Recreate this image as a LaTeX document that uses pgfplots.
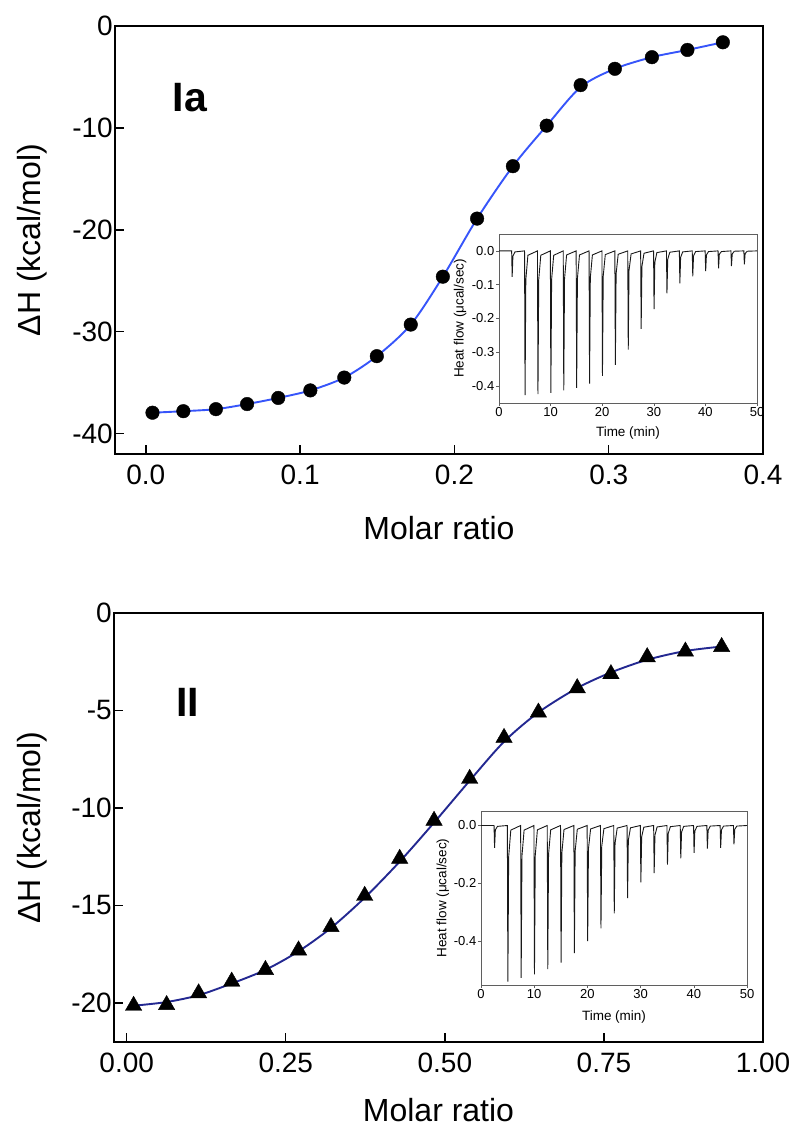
\documentclass[border=0pt]{standalone}
\usepackage{fontspec}
\setmainfont{Liberation Sans}
\usepackage{pgfplots}
\pgfplotsset{compat=1.18}

\definecolor{fitblue}{RGB}{55,85,250}
\definecolor{fitnavy}{RGB}{35,40,145}
\definecolor{frame}{RGB}{95,95,95}

\pgfplotsset{
  mainax/.style={
    scale only axis, anchor=south west,
    axis line style={line width=1.6pt},
    /pgf/number format/assume math mode=true,
    tick label style={font=\fontsize{28}{30}\selectfont},
    xticklabel style={inner ysep=11pt},
    yticklabel style={inner xsep=2pt},
    label style={font=\fontsize{32}{36}\selectfont},
  },
  inset/.style={
    scale only axis, anchor=south west,
    axis background/.style={fill=white},
    axis line style={frame, line width=0.8pt},
    /pgf/number format/assume math mode=true,
    tick label style={font=\fontsize{13}{14}\selectfont, inner sep=1.5pt},
    label style={font=\fontsize{13.5}{15}\selectfont},
    xtick={0,10,20,30,40,50},
    xmin=0, xmax=50,
    yticklabel style={/pgf/number format/.cd,fixed,fixed zerofill,precision=1},
    xlabel={Time (min)},
    ylabel={Heat flow (μcal/sec)},
  },
}

\begin{document}
\begin{tikzpicture}
\useasboundingbox (0,0) rectangle (799pt,1133pt);

% ---- panel Ia ----
\begin{axis}[mainax, at={(115pt,679pt)}, width=648pt, height=428pt,
    xmin=-0.02, xmax=0.4, ymin=-42, ymax=0,
    tick align=inside, xtick pos=left, ytick pos=left,
    major tick length=9pt, tick style={black, line width=1.4pt},
    xtick={0,0.1,0.2,0.3,0.4}, ytick={-40,-30,-20,-10,0},
    xticklabel style={/pgf/number format/.cd,fixed,fixed zerofill,precision=1},
    xlabel={Molar ratio}, ylabel={ΔH (kcal/mol)},
    xlabel style={at={(axis description cs:0.5,-0.173)}, anchor=center},
    ylabel style={at={(axis description cs:-0.128,0.5)}, anchor=center},
]
\addplot[fitblue, line width=1.9pt, smooth] coordinates {
  (0.0043,-37.95) (0.0243,-37.8) (0.0454,-37.6) (0.0656,-37.1)
  (0.0858,-36.5) (0.1066,-35.76) (0.1286,-34.5) (0.1497,-32.4)
  (0.1717,-29.3) (0.1925,-24.6) (0.2147,-18.9) (0.2379,-13.76)
  (0.2598,-9.78) (0.2818,-6.0) (0.304,-4.2) (0.328,-3.06)
  (0.351,-2.35) (0.374,-1.6)
};
\addplot[only marks, mark=*, mark size=6.8pt, black] coordinates {
  (0.0043,-37.95) (0.0243,-37.8) (0.0454,-37.6) (0.0656,-37.1)
  (0.0858,-36.5) (0.1066,-35.76) (0.1286,-34.5) (0.1497,-32.4)
  (0.1717,-29.3) (0.1925,-24.6) (0.2147,-18.9) (0.2379,-13.76)
  (0.2598,-9.78) (0.2818,-5.8) (0.304,-4.2) (0.328,-3.06)
  (0.351,-2.35) (0.374,-1.6)
};
\node[font=\bfseries\fontsize{41}{44}\selectfont] at (axis cs:0.0286,-7.07) {Ia};
\end{axis}

\begin{axis}[inset, at={(499pt,730pt)}, width=258pt, height=169pt,
    tick align=outside, xtick pos=left, ytick pos=left,
    major tick length=3pt, tick style={frame, line width=0.6pt},
    ymin=-0.45, ymax=0.05, ytick={-0.4,-0.3,-0.2,-0.1,0},
    xlabel style={at={(axis description cs:0.5,-0.178)}, anchor=center},
    ylabel style={at={(axis description cs:-0.151,0.5)}, anchor=center},
]
\addplot[black!90, line width=0.9pt] coordinates {
  (0,0) (2.45,0) (2.55,-0.077) (2.7,-0.015) (3.1,-0.003)
  (4.95,0) (5.05,-0.427) (5.2,-0.085) (5.6,-0.013)
  (7.45,0) (7.55,-0.424) (7.7,-0.085) (8.1,-0.013)
  (9.95,0) (10.05,-0.420) (10.2,-0.084) (10.6,-0.013)
  (12.45,0) (12.55,-0.413) (12.7,-0.083) (13.1,-0.012)
  (14.95,0) (15.05,-0.405) (15.2,-0.081) (15.6,-0.012)
  (17.45,0) (17.55,-0.393) (17.7,-0.079) (18.1,-0.012)
  (19.95,0) (20.05,-0.370) (20.2,-0.074) (20.6,-0.011)
  (22.45,0) (22.55,-0.337) (22.7,-0.067) (23.1,-0.010)
  (24.95,0) (25.05,-0.292) (25.2,-0.058) (25.6,-0.009)
  (27.45,0) (27.55,-0.231) (27.7,-0.046) (28.1,-0.007)
  (29.95,0) (30.05,-0.172) (30.2,-0.034) (30.6,-0.005)
  (32.45,0) (32.55,-0.126) (32.7,-0.025) (33.1,-0.004)
  (34.95,0) (35.05,-0.096) (35.2,-0.019) (35.6,-0.003)
  (37.45,0) (37.55,-0.075) (37.7,-0.015) (38.1,-0.002)
  (39.95,0) (40.05,-0.060) (40.2,-0.012) (40.6,-0.002)
  (42.45,0) (42.55,-0.052) (42.7,-0.010) (43.1,-0.002)
  (44.95,0) (45.05,-0.045) (45.2,-0.009) (45.6,-0.001)
  (47.45,0) (47.55,-0.040) (47.7,-0.008) (48.1,-0.001)
  (50,0)
};
\end{axis}

% ---- panel II ----
\begin{axis}[mainax, at={(114pt,91pt)}, width=649pt, height=429pt,
    xmin=-0.02, xmax=1.0, ymin=-22, ymax=0,
    tick align=inside, xtick pos=left, ytick pos=left,
    major tick length=9pt, tick style={black, line width=1.4pt},
    xtick={0,0.25,0.5,0.75,1}, ytick={-20,-15,-10,-5,0},
    xticklabel style={/pgf/number format/.cd,fixed,fixed zerofill,precision=2},
    xlabel={Molar ratio}, ylabel={ΔH (kcal/mol)},
    xlabel style={at={(axis description cs:0.5,-0.159)}, anchor=center},
    ylabel style={at={(axis description cs:-0.126,0.5)}, anchor=center},
]
\addplot[fitnavy, line width=1.9pt, smooth] coordinates {
  (0.0108,-20.14) (0.0627,-19.95) (0.113,-19.6) (0.165,-19.0)
  (0.218,-18.3) (0.270,-17.35) (0.321,-16.15) (0.374,-14.6)
  (0.429,-12.75) (0.483,-10.75) (0.539,-8.6) (0.593,-6.6)
  (0.647,-5.1) (0.708,-3.85) (0.761,-3.05) (0.818,-2.4)
  (0.878,-1.95) (0.935,-1.72)
};
\addplot[only marks, mark=triangle*, mark size=9.5pt, black] coordinates {
  (0.0108,-20.14) (0.0627,-20.1) (0.113,-19.5) (0.165,-18.9)
  (0.218,-18.3) (0.270,-17.3) (0.321,-16.1) (0.374,-14.5)
  (0.429,-12.6) (0.483,-10.65) (0.539,-8.5) (0.593,-6.4)
  (0.647,-5.1) (0.708,-3.85) (0.761,-3.13) (0.818,-2.26)
  (0.878,-1.97) (0.935,-1.74)
};
\node[font=\bfseries\fontsize{41}{44}\selectfont] at (axis cs:0.096,-4.56) {II};
\end{axis}

\begin{axis}[inset, at={(481pt,148pt)}, width=266pt, height=174pt,
    tick align=outside, xtick pos=left, ytick pos=left,
    major tick length=3pt, tick style={frame, line width=0.6pt},
    ymin=-0.55, ymax=0.05, ytick={-0.4,-0.2,0},
    xlabel style={at={(axis description cs:0.5,-0.184)}, anchor=center},
    ylabel style={at={(axis description cs:-0.143,0.5)}, anchor=center},
]
\addplot[black!90, line width=0.9pt] coordinates {
  (0,0) (2.45,0) (2.55,-0.077) (2.7,-0.015) (3.1,-0.003)
  (4.95,0) (5.05,-0.538) (5.2,-0.108) (5.6,-0.016)
  (7.45,0) (7.55,-0.525) (7.7,-0.105) (8.1,-0.016)
  (9.95,0) (10.05,-0.513) (10.2,-0.103) (10.6,-0.015)
  (12.45,0) (12.55,-0.495) (12.7,-0.099) (13.1,-0.015)
  (14.95,0) (15.05,-0.473) (15.2,-0.095) (15.6,-0.014)
  (17.45,0) (17.55,-0.440) (17.7,-0.088) (18.1,-0.013)
  (19.95,0) (20.05,-0.399) (20.2,-0.080) (20.6,-0.012)
  (22.45,0) (22.55,-0.355) (22.7,-0.071) (23.1,-0.011)
  (24.95,0) (25.05,-0.303) (25.2,-0.061) (25.6,-0.009)
  (27.45,0) (27.55,-0.250) (27.7,-0.050) (28.1,-0.008)
  (29.95,0) (30.05,-0.196) (30.2,-0.039) (30.6,-0.006)
  (32.45,0) (32.55,-0.164) (32.7,-0.033) (33.1,-0.005)
  (34.95,0) (35.05,-0.135) (35.2,-0.027) (35.6,-0.004)
  (37.45,0) (37.55,-0.113) (37.7,-0.023) (38.1,-0.003)
  (39.95,0) (40.05,-0.094) (40.2,-0.019) (40.6,-0.003)
  (42.45,0) (42.55,-0.080) (42.7,-0.016) (43.1,-0.002)
  (44.95,0) (45.05,-0.077) (45.2,-0.015) (45.6,-0.002)
  (47.45,0) (47.55,-0.065) (47.7,-0.013) (48.1,-0.002)
  (50,0)
};
\end{axis}
\end{tikzpicture}
\end{document}
